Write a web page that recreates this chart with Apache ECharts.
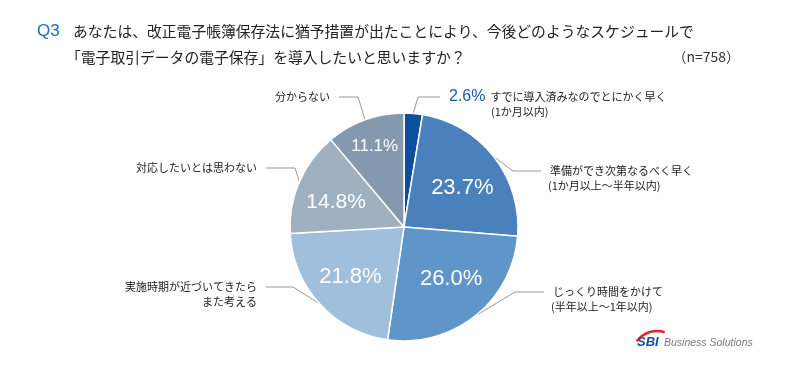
<!DOCTYPE html>
<html>
<head>
<meta charset="utf-8">
<script src="https://cdn.jsdelivr.net/npm/echarts@6/dist/echarts.min.js"></script>
<style>html,body{margin:0;padding:0;background:#fff;}#c{width:790px;height:375px;}</style>
</head>
<body>
<div id="c"></div>
<script>
// ---- data ----
const categories = [
  'すでに導入済みなのでとにかく早く',
  '準備ができ次第なるべく早く',
  'じっくり時間をかけて',
  '実施時期が近づいてきたら',
  '対応したいとは思わない',
  '分からない'
];
const secondLines = ['(1か月以内)', '(1か月以上〜半年以内)', '(半年以上〜1年以内)', 'また考える', '', ''];
const values = [2.6, 23.7, 26.0, 21.8, 14.8, 11.1];
const colors = ['#0b4f9e', '#4a80bb', '#5f95c8', '#a0bfdd', '#9fb1c1', '#8599ae'];
const titleLine1 = 'あなたは、改正電子帳簿保存法に猶予措置が出たことにより、今後どのようなスケジュールで';
const titleLine2 = '「電子取引データの電子保存」を導入したいと思いますか？';
const qLabel = 'Q3';
const sampleNote = '（n=758）';

// ---- layout (not data) ----
const CX = 404, CY = 227, R = 114;
const GAP = 9;
const outerPos = [[449, 97, 'left'], [550, 171, 'left'], [553, 292, 'left'], [257, 287, 'right'], [257, 168, 'right'], [330, 97, 'right']];
const leaderLen = [22, 28, 29, 27, 29, 19];
const secondPos = [[491, 112, 'left'], [548, 186, 'left'], [551, 307, 'left'], [257, 302, 'right'], [0, 0, 'left'], [0, 0, 'left']];
const innerShift = [[0, 0], [0, 6], [1, -6], [1, 0], [0, 5], [-4, -11]];
const innerSize = [15, 22, 22, 22, 21, 17];

const JP = '"Noto Sans CJK JP", "Noto Sans", sans-serif';
const NUM = '"Liberation Sans", Arial, sans-serif';

const chart = echarts.init(document.getElementById('c'), null, { renderer: 'canvas' });
chart.setOption({
  animation: false,
  backgroundColor: '#fff',
  title: [
    { text: qLabel, left: 37, top: 22, padding: 0, textStyle: { fontFamily: NUM, fontSize: 17, fontWeight: 'normal', color: '#1f6cb5', lineHeight: 18 } },
    { text: titleLine1, left: 73, top: 23, padding: 0, textStyle: { fontFamily: JP, fontSize: 14.8, fontWeight: 'normal', color: '#222', lineHeight: 16 } },
    { text: titleLine2, left: 66, top: 49, padding: 0, textStyle: { fontFamily: JP, fontSize: 14.8, fontWeight: 'normal', color: '#222', lineHeight: 16 } },
    { text: sampleNote, right: 50, top: 49, padding: 0, textStyle: { fontFamily: JP, fontSize: 14, fontWeight: 'normal', color: '#333', lineHeight: 15 } }
  ],
  series: [
    {
      type: 'pie',
      center: [CX, CY],
      radius: [0, R],
      startAngle: 90,
      clockwise: true,
      avoidLabelOverlap: false,
      silent: true,
      itemStyle: { borderColor: '#fff', borderWidth: 1.5 },
      data: values.map((v, i) => ({ name: categories[i], value: v, itemStyle: { color: colors[i] }, labelLine: { length2: leaderLen[i] } })),
      label: {
        show: true,
        position: 'outside',
        fontFamily: JP,
        fontSize: 11,
        color: '#222',
        backgroundColor: 'rgba(255,255,255,0)',
        padding: [0, GAP, 0, GAP],
        formatter: (p) => p.dataIndex === 0 ? '{p|' + values[0].toFixed(1) + '%}  {n|' + p.name + '}' : p.name,
        rich: {
          p: { fontFamily: NUM, fontSize: 16, color: '#1a5aa6', fontWeight: 'normal' },
          n: { fontFamily: JP, fontSize: 11, color: '#222' }
        }
      },
      labelLine: { show: true, length: 10, length2: 24, lineStyle: { color: '#999', width: 1 } },
      labelLayout: (p) => {
        const o = outerPos[p.dataIndex];
        const x = o[2] === 'left' ? o[0] - GAP : o[0] + GAP;
        return { x: x, y: o[1], align: o[2], verticalAlign: 'middle' };
      }
    },
    {
      type: 'pie',
      center: [CX, CY],
      radius: [28, R],
      startAngle: 90,
      clockwise: true,
      silent: true,
      z: 3,
      itemStyle: { color: 'rgba(0,0,0,0)' },
      data: values.map((v, i) => ({ name: categories[i], value: v })),
      label: {
        show: true,
        position: 'inside',
        fontFamily: NUM,
        color: '#fff',
        formatter: (p) => p.dataIndex === 0 ? '' : values[p.dataIndex].toFixed(1) + '%'
      },
      labelLine: { show: false },
      labelLayout: (p) => {
        const s = innerShift[p.dataIndex];
        return { dx: s[0], dy: s[1], fontSize: innerSize[p.dataIndex] };
      }
    },
    {
      type: 'pie',
      center: [CX, CY],
      radius: [0, R],
      startAngle: 90,
      clockwise: true,
      silent: true,
      avoidLabelOverlap: false,
      z: 1,
      itemStyle: { color: 'rgba(0,0,0,0)' },
      data: values.map((v, i) => ({ name: categories[i], value: v })),
      label: {
        show: true,
        position: 'outside',
        fontFamily: JP,
        fontSize: 11,
        color: '#222',
        formatter: (p) => secondLines[p.dataIndex]
      },
      labelLine: { show: false },
      labelLayout: (p) => {
        const o = secondPos[p.dataIndex];
        return { x: o[0], y: o[1], align: o[2], verticalAlign: 'middle' };
      }
    }
  ],
  graphic: [
    { type: 'arc', shape: { cx: 657, cy: 356, r: 25, startAngle: Math.PI * 1.2, endAngle: Math.PI * 1.6 }, style: { stroke: '#e02a2a', lineWidth: 2.5, fill: null } },
    { type: 'text', left: 637, top: 336, style: { text: 'SBI', fontFamily: NUM, fontSize: 13, fontWeight: 'bold', fontStyle: 'italic', fill: '#1a4ea0' } },
    { type: 'text', left: 664, top: 338, style: { text: 'Business Solutions', fontFamily: NUM, fontSize: 10.5, fontStyle: 'italic', fill: '#7a7a7a' } }
  ]
});
</script>
</body>
</html>
